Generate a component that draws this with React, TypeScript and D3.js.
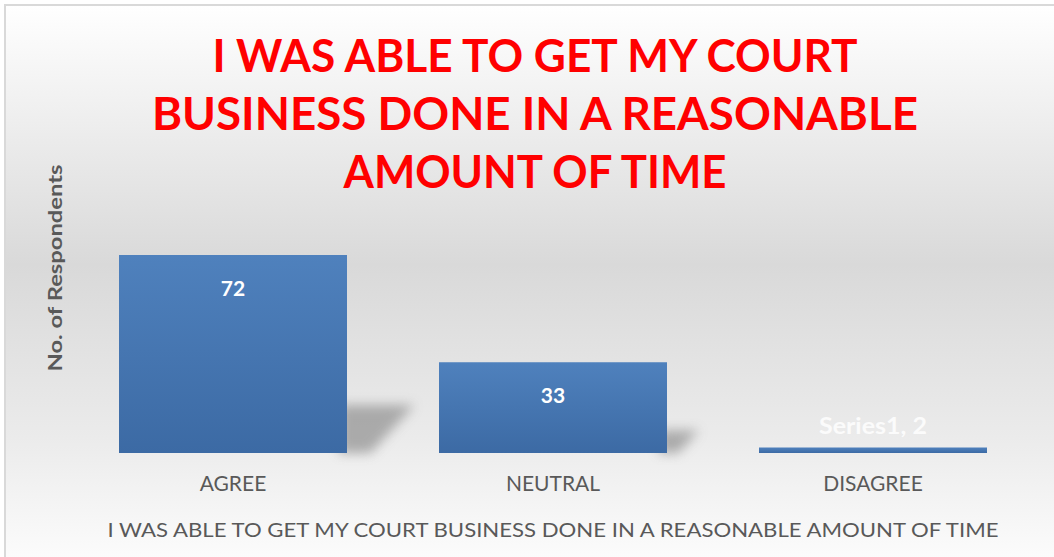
import React from "react";
import * as d3 from "d3";

const categories = ["AGREE", "NEUTRAL", "DISAGREE"];
const values = [72, 33, 2];
const valueLabels = ["72", "33", "Series1, 2"];
const titleLines = ["I WAS ABLE TO GET MY COURT", "BUSINESS DONE IN A REASONABLE", "AMOUNT OF TIME"];
const xAxisTitle = "I WAS ABLE TO GET MY COURT BUSINESS DONE IN A REASONABLE AMOUNT OF TIME";
const yAxisTitle = "No. of Respondents";

const W = 1054;
const H = 557;

export default function App() {
  const x = d3.scaleBand<string>().domain(categories).range([73, 1033]).paddingInner(0.2875).paddingOuter(0.14375);
  const y = d3.scaleLinear().domain([0, 80]).range([453, 233]);
  const titleWidths = [645, 766, 383];
  const titleBaselines = [72, 130, 188];
  const font = "Lato, 'Open Sans', sans-serif";

  return (
    <svg width={W} height={H} style={{ position: "absolute", left: 0, top: 0 }} xmlns="http://www.w3.org/2000/svg">
      <defs>
        <linearGradient id="bg" x1="0" y1="0" x2="0" y2="1">
          <stop offset="0" stopColor="#ffffff" />
          <stop offset="0.45" stopColor="#d9d9d9" />
          <stop offset="0.75" stopColor="#ebebeb" />
          <stop offset="1" stopColor="#ffffff" />
        </linearGradient>
        <linearGradient id="bar" x1="0" y1="0" x2="0" y2="1">
          <stop offset="0" stopColor="#4f81bd" />
          <stop offset="1" stopColor="#3c6aa4" />
        </linearGradient>
        <filter id="blur" x="-50%" y="-50%" width="200%" height="200%">
          <feGaussianBlur stdDeviation="6" />
        </filter>
      </defs>
      <rect x={0} y={0} width={W} height={H} fill="#ffffff" />
      <rect x={5} y={5} width={W + 20} height={H + 20} fill="url(#bg)" stroke="#d9d9d9" strokeWidth={2} />

      {titleLines.map((t, i) => (
        <text
          key={t}
          x={535}
          y={titleBaselines[i]}
          textAnchor="middle"
          fontFamily={font}
          fontWeight="bold"
          fontSize={45}
          fill="#ff0000"
          textLength={titleWidths[i]}
          lengthAdjust="spacingAndGlyphs"
        >
          {t}
        </text>
      ))}

      {categories.map((c, i) => {
        const x0 = x(c)!;
        const bw = x.bandwidth();
        const top = y(values[i]);
        const base = y(0);
        const h = base - top;
        const sh = Math.min(h * 0.25, 48);
        const dx = sh * 1.4;
        return (
          <g key={c}>
            {h > 20 && (
              <polygon
                points={`${x0 + bw - 8},${base} ${x0 + bw - 8},${base - sh} ${x0 + bw + dx},${base - sh} ${x0 + bw + dx * 0.35},${base}`}
                fill="#8f8f8f"
                opacity={0.7}
                filter="url(#blur)"
              />
            )}
            <rect x={x0} y={top} width={bw} height={h} fill="url(#bar)" />
          </g>
        );
      })}

      {categories.map((c, i) => {
        const cx = x(c)! + x.bandwidth() / 2;
        const top = y(values[i]);
        const big = values[i] > 10;
        const ly = big ? top + 41 : top - 14;
        return (
          <text
            key={c + "v"}
            x={cx}
            y={ly}
            textAnchor="middle"
            fontFamily={font}
            fontWeight="bold"
            fontSize={big ? 21 : 22}
            fill={big ? "#ffffff" : "#fbfbfb"}
            textLength={big ? undefined : 108}
            lengthAdjust={big ? undefined : "spacingAndGlyphs"}
          >
            {valueLabels[i]}
          </text>
        );
      })}

      {categories.map((c) => (
        <text key={c + "l"} x={x(c)! + x.bandwidth() / 2} y={491} textAnchor="middle" fontFamily={font} fontSize={21} fill="#595959">
          {c}
        </text>
      ))}

      <text x={553} y={537} textAnchor="middle" fontFamily={font} fontSize={20} fill="#595959" textLength={891} lengthAdjust="spacingAndGlyphs">
        {xAxisTitle}
      </text>

      <text
        transform={`translate(62,${268}) rotate(-90)`}
        textAnchor="middle"
        fontFamily={font}
        fontWeight="bold"
        fontSize={18}
        fill="#595959"
        textLength={207}
        lengthAdjust="spacingAndGlyphs"
      >
        {yAxisTitle}
      </text>
    </svg>
  );
}
